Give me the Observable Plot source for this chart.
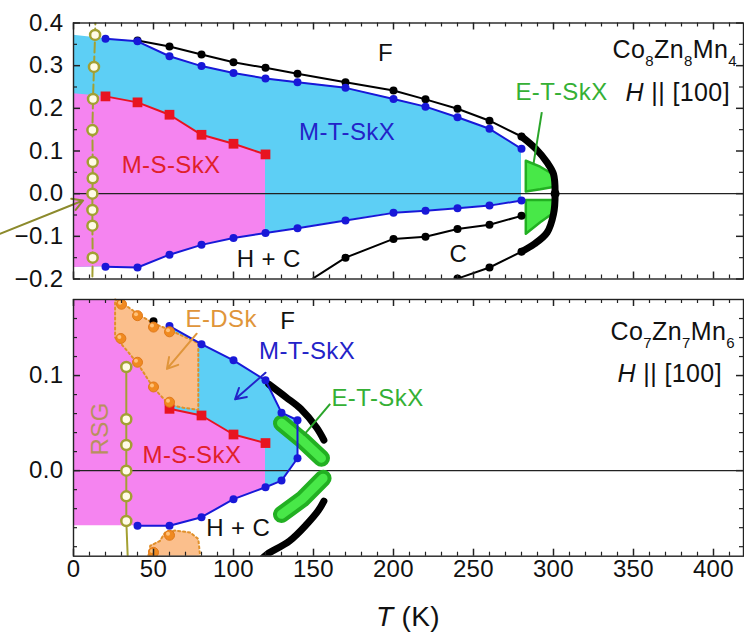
<!DOCTYPE html>
<html><head><meta charset="utf-8">
<script src="https://cdn.jsdelivr.net/npm/d3@7"></script>
<script src="https://cdn.jsdelivr.net/npm/@observablehq/plot@0.6"></script>
<style>
body{margin:0;background:#fff;font-family:"Liberation Sans",Arial,sans-serif;}
#wrap{position:relative;width:744px;height:637px;overflow:hidden;background:#fff;}
#wrap svg{display:block;}
.ov{position:absolute;white-space:nowrap;color:#111;line-height:1;font-size:25px;letter-spacing:0.4px;}
.ov .s{font-size:15px;position:relative;top:8px;}
</style></head><body>
<div id="wrap"></div>
<script>
// ---------------- data: top panel (Co8Zn8Mn4) ----------------
const xTickLabels = [0,50,100,150,200,250,300,350,400];
const topYTicks = [-0.2,-0.1,0.0,0.1,0.2,0.3,0.4];
const botYTicks = [0.0,0.1];

const topT_F   = [40,60,80,100,120,140,170,200,220,240,260,280];
const topH_F   = [0.359,0.345,0.326,0.308,0.295,0.281,0.261,0.242,0.221,0.199,0.171,0.134];
const topT_nose = [280,289,296,300,301,300,296,288,280];
const topH_nose = [0.134,0.105,0.073,0.046,0.0,-0.048,-0.091,-0.118,-0.136];
const topT_MT   = [20,40,60,80,100,120,140,170,200,220,240,260,280];
const topH_MTup = [0.363,0.357,0.322,0.299,0.283,0.270,0.261,0.248,0.222,0.204,0.179,0.152,0.105];
const topH_MTlo = [-0.171,-0.173,-0.143,-0.120,-0.104,-0.092,-0.081,-0.063,-0.045,-0.040,-0.034,-0.028,-0.016];
const topT_HC = [140,170,200,220,240,260,280];
const topH_HC = [-0.222,-0.150,-0.106,-0.101,-0.083,-0.073,-0.052];
const topT_C  = [220,240,260,280];
const topH_C  = [-0.225,-0.199,-0.173,-0.136];
const topT_MS = [20,40,60,80,100,120];
const topH_MS = [0.228,0.214,0.185,0.138,0.117,0.092];
const topT_RSG = [13.5,12.8,12.2,11.8,12,12,11.8,11.8,11.8,12];
const topH_RSG = [0.372,0.297,0.222,0.149,0.074,0.036,0.0,-0.038,-0.075,-0.150];
const topT_RSGline = [13.8,13.5,12.8,12.2,11.8,12,12,11.8,11.8,11.8,12,11.7];
const topH_RSGline = [0.42,0.372,0.297,0.222,0.149,0.074,0.036,0.0,-0.038,-0.075,-0.150,-0.22];
// filled regions
const topT_cyan  = [0,20,40,60,80,100,120,140,170,200,220,240,260,280];
const topH_cyanHi = [0.371,0.363,0.357,0.322,0.299,0.283,0.270,0.261,0.248,0.222,0.204,0.179,0.152,0.105];
const topH_cyanLo = [-0.173,-0.171,-0.173,-0.143,-0.120,-0.104,-0.092,-0.081,-0.063,-0.045,-0.040,-0.034,-0.028,-0.016];
const topT_pink  = [0,20,40,60,80,100,120];
const topH_pinkHi = [0.234,0.228,0.214,0.185,0.138,0.117,0.092];
const topH_pinkLo = [-0.173,-0.171,-0.173,-0.143,-0.120,-0.104,-0.092];
const topT_ET = [283,292,301];
const topH_ETaHi = [0.076,0.062,0.042];
const topH_ETaLo = [0.004,0.009,0.015];
const topH_ETbHi = [-0.016,-0.016,-0.016];
const topH_ETbLo = [-0.095,-0.068,-0.044];
// annotations
const topLabels = [
  {t:"F", x:195, y:0.328, c:"#111"},
  {t:"M-T-SkX", x:171, y:0.144, c:"#2323c8"},
  {t:"M-S-SkX", x:61, y:0.066, c:"#e0202a"},
  {t:"H + C", x:122, y:-0.155, c:"#111"},
  {t:"C", x:240.6, y:-0.143, c:"#111"},
  {t:"E-T-SkX", x:305, y:0.237, c:"#35b035"}
];
const topLinks = [{x1:292.7, y1:0.191, x2:287.5, y2:0.07, c:"#2aa52a"}];
const topArrows = [{x1:-46, y1:-0.094, x2:6, y2:-0.016, c:"#8c8a2c"}];

// ---------------- data: bottom panel (Co7Zn7Mn6) ----------------
const botT_MTup = [60,80,100,120,130,140];
const botH_MTup = [0.152,0.133,0.116,0.095,0.061,0.053];
const botT_MTlo = [40,60,80,100,120,130,140];
const botH_MTlo = [-0.058,-0.058,-0.049,-0.030,-0.0175,-0.0105,0.013];
const botT_MS = [60,80,100,120];
const botH_MS = [0.065,0.058,0.038,0.029];
const botT_Fdot = [50];
const botH_Fdot = [0.157];
const botT_Fthick = [122,133,142,152,156.5];
const botH_Fthick = [0.091,0.077,0.065,0.045,0.032];
const botT_Cthick = [117,121,135,146,153,156.5];
const botH_Cthick = [-0.094,-0.088,-0.074,-0.056,-0.042,-0.032];
const botT_ETa = [130,143,155];
const botH_ETa = [0.050,0.032,0.013];
const botT_ETb = [130,143,156];
const botH_ETb = [-0.046,-0.030,-0.008];
const botT_cyan = [60,80,100,120,130,140];
const botH_cyanHi = [0.152,0.133,0.116,0.095,0.061,0.053];
const botH_cyanLo = [-0.058,-0.049,-0.030,-0.0175,-0.0105,0.013];
const botT_pink = [0,26,40,50,60,80,100,120];
const botH_pinkHi = [0.18,0.18,0.164,0.155,0.065,0.058,0.038,0.029];
const botH_pinkLo = [-0.058,-0.058,-0.058,-0.058,-0.058,-0.049,-0.030,-0.0175];
const botT_orange = [26,30,40,50,60,69,78];
const botH_orangeHi = [0.18,0.177,0.165,0.155,0.148,0.141,0.134];
const botH_orangeLo = [0.14,0.133,0.113,0.087,0.069,0.066,0.064];
const botT_orange2 = [46.7,48,54,57.3,63.6,73,78,79.2];
const botH_orange2Hi = [-0.0905,-0.079,-0.074,-0.065,-0.063,-0.065,-0.072,-0.0905];
const botH_orange2Lo = [-0.095,-0.095,-0.095,-0.095,-0.095,-0.095,-0.095,-0.095];
const botT_balls = [30,40,50,60,29.6,40,50,60,60,50];
const botH_balls = [0.175,0.163,0.151,0.146,0.139,0.114,0.088,0.072,-0.068,-0.086];
const botT_RSG = [33,33,33,33,33,33];
const botH_RSG = [0.109,0.054,0.027,0.0,-0.027,-0.053];
const botT_RSGline = [33,33,33,33,33,33,34];
const botH_RSGline = [0.109,0.054,0.027,0.0,-0.027,-0.053,-0.095];
const botLabels = [
  {t:"E-DSk", x:92.3, y:0.159, c:"#e0953a"},
  {t:"F", x:134, y:0.157, c:"#111"},
  {t:"M-T-SkX", x:146, y:0.125, c:"#2323c8"},
  {t:"E-T-SkX", x:190, y:0.076, c:"#35b035"},
  {t:"M-S-SkX", x:74, y:0.016, c:"#e0202a"},
  {t:"H + C", x:103, y:-0.061, c:"#111"}
];
const botArrows = [
  {x1:77, y1:0.144, x2:58.4, y2:0.107, c:"#e0953a"},
  {x1:120, y1:0.103, x2:101, y2:0.075, c:"#2323c8"}
];
const botLinks = [{x1:160.4, y1:0.0702, x2:143.8, y2:0.037, c:"#2aa52a"}];
const botRSGLabel = [{t:"RSG", x:16.5, y:0.044}];

// ---------------- helpers ----------------
const FONT = '"Liberation Sans", Arial, sans-serif';
const zip = (xs, ys) => xs.map((x, i) => ({x, y: ys[i]}));
const band = (xs, lo, hi) => xs.map((x, i) => ({x, lo: lo[i], hi: hi[i]}));
const X_DOMAIN = [0, 418.75];
const W = 744, ML = 73, MR = 1;
const FS = 24;

function frameTicks(yMinor, yMajor, iw, ih) {
  const xMinor = d3.range(0, 420, 10).filter(d => d % 50 !== 0);
  const xMajor = d3.range(0, 420, 50);
  const mn = 4, mj = 7, st = "#222";
  return [
    Plot.tickX(xMinor, {x: d => d, insetTop: ih - mn, stroke: st, strokeWidth: 1.2}),
    Plot.tickX(xMinor, {x: d => d, insetBottom: ih - mn, stroke: st, strokeWidth: 1.2}),
    Plot.tickX(xMajor, {x: d => d, insetTop: ih - mj, stroke: st, strokeWidth: 1.5}),
    Plot.tickX(xMajor, {x: d => d, insetBottom: ih - mj, stroke: st, strokeWidth: 1.5}),
    Plot.tickY(yMinor, {y: d => d, insetRight: iw - mn, stroke: st, strokeWidth: 1.2}),
    Plot.tickY(yMinor, {y: d => d, insetLeft: iw - mn, stroke: st, strokeWidth: 1.2}),
    Plot.tickY(yMajor, {y: d => d, insetRight: iw - mj, stroke: st, strokeWidth: 1.5}),
    Plot.tickY(yMajor, {y: d => d, insetLeft: iw - mj, stroke: st, strokeWidth: 1.5})
  ];
}

const CYAN = "#5dcff5", PINK = "#f584f0", PEACH = "#fbbf8c";
const BLUE = "#1818d8", RED = "#e81420", OLIVE = "#a3a032", GREEN_D = "#22b022", GREEN_L = "#48e848";
const STYLE = {fontFamily: FONT, background: "transparent", color: "#111", overflow: "visible", letterSpacing: "0.4px"};

// ---------------- top plot ----------------
const tH = 290, tMT = 22.5, tMB = 11.5;
const tIW = W - ML - MR, tIH = tH - tMT - tMB;
const topPlot = Plot.plot({
  width: W, height: tH, marginLeft: ML, marginRight: MR, marginTop: tMT, marginBottom: tMB,
  style: STYLE,
  x: {domain: X_DOMAIN, axis: null},
  y: {domain: [-0.2, 0.4], axis: null},
  color: {type: "identity"},
  marks: [
    Plot.areaY(band(topT_cyan, topH_cyanLo, topH_cyanHi), {x: "x", y1: "lo", y2: "hi", fill: CYAN}),
    Plot.areaY(band(topT_pink, topH_pinkLo, topH_pinkHi), {x: "x", y1: "lo", y2: "hi", fill: PINK}),
    Plot.ruleY([0], {stroke: "#222", strokeWidth: 1.2}),
    // green wedges
    Plot.areaY(band(topT_ET, topH_ETaLo, topH_ETaHi), {x: "x", y1: "lo", y2: "hi", fill: GREEN_L, stroke: GREEN_D, strokeWidth: 2.5}),
    Plot.areaY(band(topT_ET, topH_ETbLo, topH_ETbHi), {x: "x", y1: "lo", y2: "hi", fill: GREEN_L, stroke: GREEN_D, strokeWidth: 2.5}),
    // F boundary
    Plot.line(zip(topT_F, topH_F), {x: "x", y: "y", stroke: "#000", strokeWidth: 2}),
    Plot.dot(zip(topT_F, topH_F), {x: "x", y: "y", r: 4, fill: "#000"}),
    Plot.line(zip(topT_nose, topH_nose), {x: "x", y: "y", stroke: "#000", strokeWidth: 7, strokeLinecap: "round", curve: "catmull-rom"}),
    Plot.dot([{x: 301, y: 0}], {x: "x", y: "y", r: 4.5, fill: "#000"}),
    // M-T-SkX boundaries
    Plot.line(zip(topT_MT, topH_MTup), {x: "x", y: "y", stroke: BLUE, strokeWidth: 2}),
    Plot.dot(zip(topT_MT, topH_MTup), {x: "x", y: "y", r: 4, fill: BLUE}),
    Plot.line(zip(topT_MT, topH_MTlo), {x: "x", y: "y", stroke: BLUE, strokeWidth: 2}),
    Plot.dot(zip(topT_MT, topH_MTlo), {x: "x", y: "y", r: 4, fill: BLUE}),
    // H+C and C boundaries
    Plot.line(zip(topT_HC, topH_HC), {x: "x", y: "y", stroke: "#000", strokeWidth: 2, clip: true}),
    Plot.dot(zip(topT_HC, topH_HC), {x: "x", y: "y", r: 4, fill: "#000", clip: true}),
    Plot.line(zip(topT_C, topH_C), {x: "x", y: "y", stroke: "#000", strokeWidth: 2, clip: true}),
    Plot.dot(zip(topT_C, topH_C), {x: "x", y: "y", r: 4, fill: "#000", clip: true}),
    // M-S-SkX
    Plot.line(zip(topT_MS, topH_MS), {x: "x", y: "y", stroke: RED, strokeWidth: 2}),
    Plot.dot(zip(topT_MS, topH_MS), {x: "x", y: "y", r: 5.5, symbol: "square", fill: RED}),
    // RSG
    Plot.line(zip(topT_RSGline, topH_RSGline), {x: "x", y: "y", stroke: OLIVE, strokeWidth: 2, strokeDasharray: "10,4", clip: true}),
    Plot.dot(zip(topT_RSG, topH_RSG), {x: "x", y: "y", r: 5, fill: "#fffbe6", stroke: OLIVE, strokeWidth: 2.5}),
    // annotations
    Plot.link(topLinks, {x1: "x1", y1: "y1", x2: "x2", y2: "y2", stroke: "c", strokeWidth: 2}),
    Plot.arrow(topArrows, {x1: "x1", y1: "y1", x2: "x2", y2: "y2", stroke: "c", strokeWidth: 2, headLength: 9}),
    Plot.text(topLabels, {x: "x", y: "y", text: "t", fill: "c", fontSize: FS}),
    Plot.frame({stroke: "#222", strokeWidth: 1.4}),
    ...frameTicks(d3.range(-0.15, 0.4, 0.1), topYTicks, tIW, tIH),
    Plot.axisY(topYTicks, {anchor: "left", tickSize: 0, tickPadding: 10, fontSize: FS, tickFormat: d3.format(".1f"), label: null})
  ]
});

// ---------------- bottom plot ----------------
const bH = 347, bMT = 9, bMB = 81.3;
const bIW = W - ML - MR, bIH = bH - bMT - bMB;
const botMinorY = [-0.08,-0.06,-0.04,-0.02,0.02,0.04,0.06,0.08,0.12,0.14,0.16];
const botPlot = Plot.plot({
  width: W, height: bH, marginLeft: ML, marginRight: MR, marginTop: bMT, marginBottom: bMB,
  style: STYLE,
  x: {domain: X_DOMAIN, axis: null},
  y: {domain: [-0.09, 0.18], axis: null},
  color: {type: "identity"},
  marks: [
    Plot.areaY(band(botT_cyan, botH_cyanLo, botH_cyanHi), {x: "x", y1: "lo", y2: "hi", fill: CYAN}),
    Plot.areaY(band(botT_pink, botH_pinkLo, botH_pinkHi), {x: "x", y1: "lo", y2: "hi", fill: PINK}),
    Plot.areaY(band(botT_orange, botH_orangeLo, botH_orangeHi), {x: "x", y1: "lo", y2: "hi", fill: PEACH}),
    Plot.line(zip(botT_orange.concat(botT_orange.slice().reverse(), [botT_orange[0]]),
                  botH_orangeHi.concat(botH_orangeLo.slice().reverse(), [botH_orangeHi[0]])),
              {x: "x", y: "y", stroke: "#e0902a", strokeWidth: 2, strokeDasharray: "2,3"}),
    Plot.areaY(band(botT_orange2, botH_orange2Lo, botH_orange2Hi), {x: "x", y1: "lo", y2: "hi", fill: PEACH, clip: true}),
    Plot.line(zip(botT_orange2, botH_orange2Hi), {x: "x", y: "y", stroke: "#e0902a", strokeWidth: 2, strokeDasharray: "2,3", clip: true}),
    Plot.ruleY([0], {stroke: "#222", strokeWidth: 1.2}),
    // thick black boundaries
    Plot.line(zip(botT_Fthick, botH_Fthick), {x: "x", y: "y", stroke: "#000", strokeWidth: 7, strokeLinecap: "round", curve: "catmull-rom"}),
    Plot.line(zip(botT_Cthick, botH_Cthick), {x: "x", y: "y", stroke: "#000", strokeWidth: 7, strokeLinecap: "round", curve: "catmull-rom", clip: true}),
    Plot.dot(zip(botT_Fdot, botH_Fdot), {x: "x", y: "y", r: 4, fill: "#000"}),
    // green E-T-SkX
    Plot.line(zip(botT_ETa, botH_ETa), {x: "x", y: "y", stroke: GREEN_D, strokeWidth: 17, strokeLinecap: "round"}),
    Plot.line(zip(botT_ETa, botH_ETa), {x: "x", y: "y", stroke: GREEN_L, strokeWidth: 9, strokeLinecap: "round"}),
    Plot.line(zip(botT_ETb, botH_ETb), {x: "x", y: "y", stroke: GREEN_D, strokeWidth: 17, strokeLinecap: "round"}),
    Plot.line(zip(botT_ETb, botH_ETb), {x: "x", y: "y", stroke: GREEN_L, strokeWidth: 9, strokeLinecap: "round"}),
    // M-T-SkX boundary
    Plot.line(zip(botT_MTlo.concat(botT_MTup.slice().reverse()), botH_MTlo.concat(botH_MTup.slice().reverse())),
              {x: "x", y: "y", stroke: BLUE, strokeWidth: 2}),
    Plot.dot(zip(botT_MTlo, botH_MTlo), {x: "x", y: "y", r: 4, fill: BLUE}),
    Plot.dot(zip(botT_MTup, botH_MTup), {x: "x", y: "y", r: 4, fill: BLUE}),
    // M-S-SkX
    Plot.line(zip(botT_MS, botH_MS), {x: "x", y: "y", stroke: RED, strokeWidth: 2}),
    Plot.dot(zip(botT_MS, botH_MS), {x: "x", y: "y", r: 5.5, symbol: "square", fill: RED}),
    // E-DSk balls
    Plot.dot(zip(botT_balls, botH_balls), {x: "x", y: "y", r: 5, fill: "#f08a20", stroke: "#e07818", strokeWidth: 1, clip: true}),
    Plot.dot(zip(botT_balls, botH_balls), {x: "x", y: "y", r: 2, dx: -1.5, dy: -1.5, fill: "#ffc27a", clip: true}),
    // RSG
    Plot.line(zip(botT_RSGline, botH_RSGline), {x: "x", y: "y", stroke: OLIVE, strokeWidth: 2, clip: true}),
    Plot.dot(zip(botT_RSG, botH_RSG), {x: "x", y: "y", r: 5, fill: "#fffbe6", stroke: OLIVE, strokeWidth: 2.5}),
    Plot.text(botRSGLabel, {x: "x", y: "y", text: "t", rotate: -90, fontSize: FS, fill: "#b8905e"}),
    // annotations
    Plot.link(botLinks, {x1: "x1", y1: "y1", x2: "x2", y2: "y2", stroke: "c", strokeWidth: 2}),
    Plot.arrow(botArrows, {x1: "x1", y1: "y1", x2: "x2", y2: "y2", stroke: "c", strokeWidth: 2, headLength: 9}),
    Plot.text(botLabels, {x: "x", y: "y", text: "t", fill: "c", fontSize: FS}),
    Plot.frame({stroke: "#222", strokeWidth: 1.4}),
    ...frameTicks(botMinorY, botYTicks, bIW, bIH),
    Plot.axisY(botYTicks, {anchor: "left", tickSize: 0, tickPadding: 10, fontSize: FS, tickFormat: d3.format(".1f"), label: null}),
    Plot.axisX(xTickLabels, {anchor: "bottom", tickSize: 0, tickPadding: 4, fontSize: FS, label: null})
  ]
});

const wrap = document.getElementById("wrap");
wrap.appendChild(topPlot);
wrap.appendChild(botPlot);

function overlay(html, style) {
  const d = document.createElement("div");
  d.className = "ov";
  d.innerHTML = html;
  Object.assign(d.style, style);
  wrap.appendChild(d);
}
overlay('Co<span class="s">8</span>Zn<span class="s">8</span>Mn<span class="s">4</span>', {right: "7px", top: "37px"});
overlay('<i>H</i> || [100]', {right: "14px", top: "80px"});
overlay('Co<span class="s">7</span>Zn<span class="s">7</span>Mn<span class="s">6</span>', {right: "9px", top: "319px"});
overlay('<i>H</i> || [100]', {right: "22px", top: "361px"});
overlay('<i>T</i> (K)', {left: "73px", width: "670px", textAlign: "center", top: "603px", fontSize: "28px"});
</script>
</body></html>
